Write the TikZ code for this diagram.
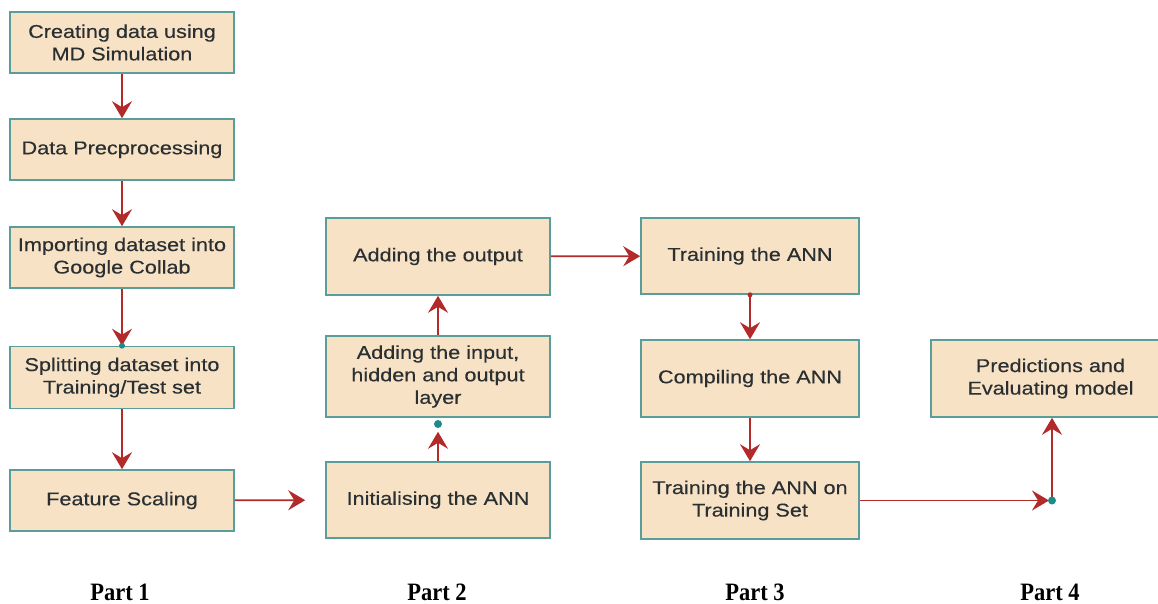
\documentclass[tikz,border=0pt]{standalone}
\usepackage{fontspec}
\setmainfont{Liberation Sans}
\newfontfamily\boxfont[FakeStretch=1.17,FakeBold=0.35]{Liberation Sans}
\newfontfamily\partfont[FakeStretch=0.9]{Liberation Serif}
\usetikzlibrary{arrows.meta}
\definecolor{boxfill}{HTML}{F8E2C6}
\definecolor{boxedge}{HTML}{5A9E9A}
\definecolor{flowred}{HTML}{B22A2A}
\definecolor{dotteal}{HTML}{1E8A8A}
\definecolor{txt}{HTML}{2A3032}
\begin{document}
\begin{tikzpicture}[x=1pt,y=-1pt,
  box/.style={draw=boxedge, line width=1.6pt, fill=boxfill, align=center,
    inner sep=0pt, text=txt, font=\boxfont\fontsize{18.5}{22.5}\selectfont},
  flow/.style={draw=flowred, line width=1.8pt,
    -{Stealth[length=17pt,width=20pt,inset=6pt]}},
  junction/.style={circle, fill=dotteal, inner sep=0pt, minimum size=8pt},
  partlabel/.style={font=\partfont\bfseries\fontsize{25}{28}\selectfont, text=black}]
\useasboundingbox (0,0) rectangle (1158,604);
\fill[white] (0,0) rectangle (1158,604);

% Part 1: data preparation
\node[box, minimum width=224pt, minimum height=61pt] (b1) at (122,42.5) {Creating data using\\MD Simulation};
\node[box, minimum width=224pt, minimum height=61pt] (b2) at (122,149.5) {Data Precprocessing};
\node[box, minimum width=224pt, minimum height=61pt] (b3) at (122,257.5) {Importing dataset into\\Google Collab};
\node[box, minimum width=224pt, minimum height=62pt] (b4) at (122,377.5) {Splitting dataset into\\Training/Test set};
\node[box, minimum width=224pt, minimum height=61pt] (b5) at (122,500.5) {Feature Scaling};

% Part 2: building the network
\node[box, minimum width=224pt, minimum height=76pt] (init) at (438,500) {Initialising the ANN};
\node[box, minimum width=224pt, minimum height=81pt] (layers) at (438,376.5) {Adding the input,\\hidden and output\\layer};
\node[box, minimum width=224pt, minimum height=77pt] (aout) at (438,256.5) {Adding the output};

% Part 3: training
\node[box, minimum width=218pt, minimum height=76pt] (train) at (750,256) {Training the ANN};
\node[box, minimum width=218pt, minimum height=77pt] (compile) at (750,378.5) {Compiling the ANN};
\node[box, minimum width=218pt, minimum height=77pt] (tset) at (750,500.5) {Training the ANN on\\Training Set};

% Part 4: evaluation
\node[box, minimum width=239pt, minimum height=77pt] (pred) at (1050.5,378.5) {Predictions and\\Evaluating model};

% connectors
\draw[flow] (b1) -- (b2);
\draw[flow] (b2) -- (b3);
\draw[flow] (b3) -- (b4);
\node[junction, minimum size=6pt] (j4) at (b4.north) {};
\draw[flow] (b4) -- (b5);
\draw[flow, shorten >=20pt] (b5) -- (init);
\draw[flow, shorten >=14pt] (init) -- (layers);
\node[junction] (j2) at (438,424) {};
\draw[flow] (layers) -- (aout);
\draw[flow] (aout) -- (train);
\fill[flowred] (train.south) circle (2.5pt);
\draw[flow] (train) -- (compile);
\draw[flow] (compile) -- (tset);
\coordinate (corner) at (1052,500.5);
\draw[flow, shorten >=3pt] (tset.east) -- (corner);
\draw[flow] (corner) -- (corner |- pred.south);
\node[junction] (j3) at (corner) {};

% part captions
\node[partlabel] (p1) at (120,592) {Part 1};
\node[partlabel] (p2) at (437,592) {Part 2};
\node[partlabel] (p3) at (755,592) {Part 3};
\node[partlabel] (p4) at (1050,592) {Part 4};
\end{tikzpicture}
\end{document}
